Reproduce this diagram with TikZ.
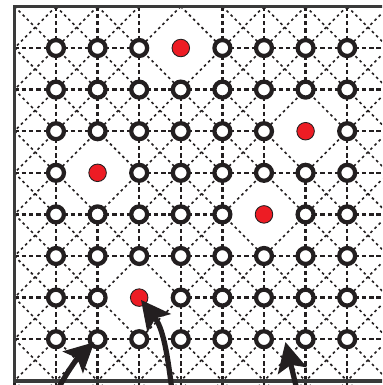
\documentclass[tikz,border=0pt]{standalone}
\usetikzlibrary{arrows.meta,calc}
\definecolor{ink}{HTML}{231F20}
\definecolor{vacred}{HTML}{ED1C24}
\definecolor{framegray}{HTML}{3A3A3A}
% red (vacant) lattice sites: column-row
\expandafter\def\csname isred-3-0\endcsname{}
\expandafter\def\csname isred-6-2\endcsname{}
\expandafter\def\csname isred-1-3\endcsname{}
\expandafter\def\csname isred-5-4\endcsname{}
\expandafter\def\csname isred-2-6\endcsname{}
\newif\ifskipbond
\def\bondcheck#1#2#3#4{\skipbondfalse
  \ifcsname isred-#1-#2\endcsname\skipbondtrue\fi
  \ifcsname isred-#3-#4\endcsname\skipbondtrue\fi}
\begin{document}
\begin{tikzpicture}[x=1cm,y=1cm,
  hv/.style={ink, line width=1.6pt, dash pattern=on 3pt off 2pt},
  dg/.style={ink, line width=1.1pt, dash pattern=on 1.8pt off 2.2pt},
  site/.style={circle, draw=ink, fill=white, line width=2.9pt, minimum size=10.9pt, inner sep=0pt},
  vac/.style={circle, draw=ink, fill=vacred, line width=0.6pt, minimum size=12pt, inner sep=0pt},
  frame/.style={draw=framegray, line width=2.4pt},
  pointer/.style={ink, line width=3.6pt, -{Stealth[length=20pt,width=20pt,inset=4pt]}}]
\useasboundingbox (-1.346,1.154) rectangle (7.837,-8.101);
\clip (-1.346,1.154) rectangle (7.837,-8.101);
% lattice coordinates
\foreach \c in {-1,...,9}{
  \foreach \r in {-1,...,9}{
    \coordinate (p-\c-\r) at (\c,-\r);
  }
}
% bonds
\foreach \c in {-1,...,8}{
  \foreach \r in {-1,...,8}{
    \pgfmathtruncatemacro\cn{\c+1}
    \pgfmathtruncatemacro\rn{\r+1}
    % diagonals
    \bondcheck{\c}{\r}{\cn}{\rn}
    \ifskipbond\else\draw[dg] (p-\c-\r) -- (p-\cn-\rn);\fi
    \bondcheck{\cn}{\r}{\c}{\rn}
    \ifskipbond\else\draw[dg] (p-\cn-\r) -- (p-\c-\rn);\fi
    % horizontal
    \bondcheck{\c}{\r}{\cn}{\r}
    \ifskipbond\else\draw[hv] (p-\c-\r) -- (p-\cn-\r);\fi
    % vertical
    \bondcheck{\c}{\r}{\c}{\rn}
    \ifskipbond\else\draw[hv] (p-\c-\r) -- (p-\c-\rn);\fi
  }
}
% sites
\foreach \c in {0,...,7}{
  \foreach \r in {0,...,7}{
    \ifcsname isred-\c-\r\endcsname
      \node[vac] (n-\c-\r) at (p-\c-\r) {};
    \else
      \node[site] (n-\c-\r) at (p-\c-\r) {};
    \fi
  }
}
% frame
\draw[frame] (p--1--1) rectangle (p-8-8);
% pointers
\coordinate (s1) at (0.02,-8.25);
\coordinate (s2) at (2.79,-8.25);
\coordinate (s3) at (5.80,-8.25);
\coordinate (t3) at ($(n-5-7)!0.5!(n-6-7)$);
\draw[pointer, shorten >=3pt] (s1) to[out=62,in=-137] (n-1-7.center);
\draw[pointer, shorten >=2pt] (s2) to[out=97,in=-52] (n-2-6.center);
\draw[pointer, shorten >=2pt] (s3) -- (t3);
\end{tikzpicture}
\end{document}
